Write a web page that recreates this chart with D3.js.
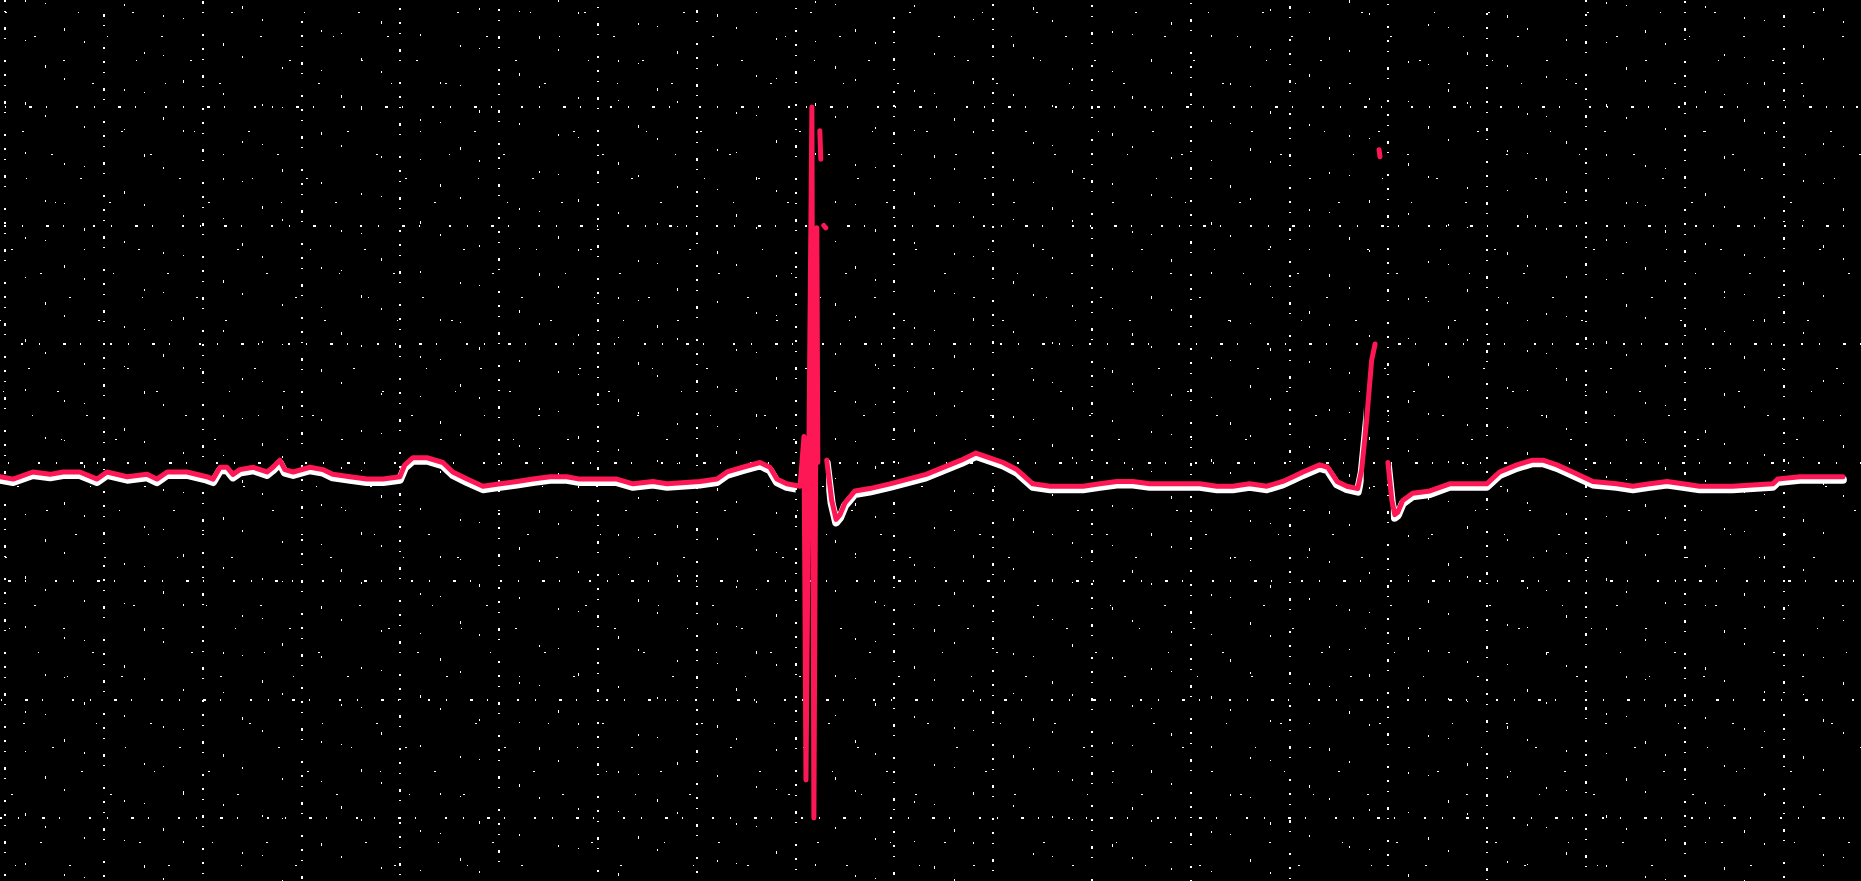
<!DOCTYPE html>
<html>
<head>
<meta charset="utf-8">
<script src="https://cdnjs.cloudflare.com/ajax/libs/d3/7.8.5/d3.min.js"></script>
<style>
  html, body { margin: 0; padding: 0; background: #000; overflow: hidden; }
  svg { display: block; }
</style>
</head>
<body>
<svg id="ecg"></svg>
<script>
// trace samples: time in ms, amplitude in mV (null = pen lifted)
var timeMs = [
  -210,-184,-144,-109,-83,-49,-14,6,47,87,
  107,128,168,208,221,235,249,261,275,302,
  330,342,356,366,383,417,443,463,498,532,
  565,599,609,625,654,686,706,735,767,802,
  836,868,903,937,963,1004,1038,1071,1111,1140,
  1206,1241,1261,1293,1328,1348,1362,1382,1409,1417,
  1421,1433,1437,1443,1445,
  1447,
  1449,1451,
  1455,
  1457,1461,
  1462,
  1463,1473,1482,1490,1500,1520,1550,1591,1664,1735,
  1765,1793,1820,1848,1880,1915,1949,1982,2016,2050,
  2083,2117,2152,2192,2218,2253,2285,2319,2354,2386,
  2407,2427,2461,2477,2496,2516,2538,2546,2556,2566,
  2573,
  2577,
  2581,2583,
  2590,
  2599,2607,2613,2619,2629,2649,2684,2724,2759,2799,
  2825,2860,2892,2913,2941,2973,3014,3062,3095,3129,
  3164,3196,3230,3297,3378,3388,3433,3520
];
var milliVolts = [
  -0.06,-0.07,-0.04,-0.05,-0.04,-0.04,-0.07,-0.04,-0.06,-0.05,
  -0.07,-0.04,-0.04,-0.06,-0.07,-0.02,-0.02,-0.05,-0.03,-0.02,
  -0.04,-0.02,0.01,-0.03,-0.04,-0.02,-0.03,-0.05,-0.06,-0.07,
  -0.07,-0.06,-0.01,0.02,0.02,0.00,-0.04,-0.07,-0.10,-0.09,
  -0.08,-0.07,-0.06,-0.06,-0.07,-0.07,-0.07,-0.09,-0.08,-0.09,
  -0.08,-0.07,-0.04,-0.02,0.00,-0.02,-0.07,-0.09,-0.10,0.11,
  -1.34,1.50,-1.50,0.99,0.00,
  null,
  1.40,1.28,
  null,
  1.00,0.99,
  null,
  0.01,-0.16,-0.24,-0.22,-0.17,-0.12,-0.11,-0.09,-0.05,0.01,
  0.04,0.02,0.00,-0.03,-0.09,-0.10,-0.10,-0.10,-0.09,-0.08,
  -0.08,-0.09,-0.09,-0.09,-0.09,-0.10,-0.10,-0.09,-0.10,-0.08,
  -0.06,-0.04,-0.01,-0.02,-0.08,-0.10,-0.11,-0.03,0.18,0.43,
  0.50,
  null,
  1.32,1.29,
  null,
  0.00,-0.16,-0.22,-0.21,-0.16,-0.13,-0.12,-0.09,-0.09,-0.09,
  -0.04,-0.01,0.01,0.01,-0.01,-0.04,-0.08,-0.09,-0.10,-0.09,
  -0.08,-0.09,-0.10,-0.10,-0.09,-0.07,-0.06,-0.06
];
// paper grid: big boxes 200 ms x 0.5 mV, small boxes 40 ms x 0.1 mV
var majorTimes = d3.range(-200, 3601, 200);
var minorTimes = d3.range(-200, 3601, 40);
var majorVolts = d3.range(-1.5, 1.51, 0.5);
var minorVolts = d3.range(-2.0, 2.01, 0.1);
// where the paper trace is hidden behind the pen spikes
var spikeWindows = [[1400, 1462], [2550, 2605]];

var width = 1861,
    height = 881;

var svg = d3.select("#ecg")
    .attr("width", width)
    .attr("height", height);

svg.append("rect")
    .attr("width", width)
    .attr("height", height)
    .attr("fill", "#000");

var x = d3.scaleLinear()
    .domain([0, 3200])
    .range([104, 104 + 16 * 98.8]);

var y = d3.scaleLinear()
    .domain([-1.5, 1.5])
    .range([818, 107]);

var data = timeMs.map(function(t, i) { return {t: t, v: milliVolts[i]}; });

var grid = svg.append("g")
    .attr("shape-rendering", "crispEdges");

// small boxes, only a few scattered dots survive the scan
grid.selectAll(".vminor")
    .data(minorTimes.filter(function(t) { return t % 200 != 0; }))
    .enter().append("line")
    .attr("x1", function(d) { return Math.round(x(d)); })
    .attr("x2", function(d) { return Math.round(x(d)); })
    .attr("y1", 0)
    .attr("y2", height)
    .attr("stroke", "#fff")
    .attr("stroke-width", 1)
    .attr("stroke-dasharray", "2,38,1,61,3,47,2,83")
    .attr("stroke-dashoffset", function(d, i) { return i * 37; });

grid.selectAll(".hminor")
    .data(minorVolts.filter(function(v) { return Math.abs(Math.round(v * 10) % 5) != 0; }))
    .enter().append("line")
    .attr("x1", 0)
    .attr("x2", width)
    .attr("y1", function(d) { return Math.round(y(d)); })
    .attr("y2", function(d) { return Math.round(y(d)); })
    .attr("stroke", "#fff")
    .attr("stroke-width", 1)
    .attr("stroke-dasharray", "2,71,1,53,2,97")
    .attr("stroke-dashoffset", function(d, i) { return i * 29; });

// big boxes, broken dotted lines
grid.selectAll(".vmajor")
    .data(majorTimes)
    .enter().append("line")
    .attr("x1", function(d) { return Math.round(x(d)); })
    .attr("x2", function(d) { return Math.round(x(d)); })
    .attr("y1", 0)
    .attr("y2", height)
    .attr("stroke", "#fff")
    .attr("stroke-width", 1.5)
    .attr("stroke-dasharray", "2,9,1,15,3,8,1,21,2,12")
    .attr("stroke-dashoffset", function(d, i) { return i * 13; });

grid.selectAll(".hmajor")
    .data(majorVolts)
    .enter().append("line")
    .attr("x1", 0)
    .attr("x2", width)
    .attr("y1", function(d) { return Math.round(y(d)); })
    .attr("y2", function(d) { return Math.round(y(d)); })
    .attr("stroke", "#fff")
    .attr("stroke-width", 1.5)
    .attr("stroke-dasharray", "2,16,1,23,3,14,1,29")
    .attr("stroke-dashoffset", function(d, i) { return i * 17; });

var line = d3.line()
    .defined(function(d) { return d.v != null; })
    .x(function(d) { return x(d.t); })
    .y(function(d) { return y(d.v); });

// clip for the white paper trace: baseline band, minus the spikes
var band = [y(0.25), y(-0.35)];
var cuts = [x.invert(0)];
spikeWindows.forEach(function(w) { cuts.push(w[0], w[1]); });
cuts.push(x.invert(width));
var clip = svg.append("clipPath").attr("id", "bandclip");
for (var k = 0; k < cuts.length; k += 2) {
    clip.append("rect")
        .attr("x", x(cuts[k]))
        .attr("y", band[0])
        .attr("width", x(cuts[k + 1]) - x(cuts[k]))
        .attr("height", band[1] - band[0]);
}

svg.append("g")
    .attr("clip-path", "url(#bandclip)")
    .append("path")
    .datum(data)
    .attr("transform", "translate(0,3)")
    .attr("fill", "none")
    .attr("stroke", "#fff")
    .attr("stroke-width", 8)
    .attr("stroke-linejoin", "round")
    .attr("stroke-linecap", "round")
    .attr("d", line);

svg.append("path")
    .datum(data)
    .attr("fill", "none")
    .attr("stroke", "#fd1755")
    .attr("stroke-width", 5)
    .attr("stroke-linejoin", "round")
    .attr("stroke-linecap", "round")
    .attr("d", line);
</script>
</body>
</html>
